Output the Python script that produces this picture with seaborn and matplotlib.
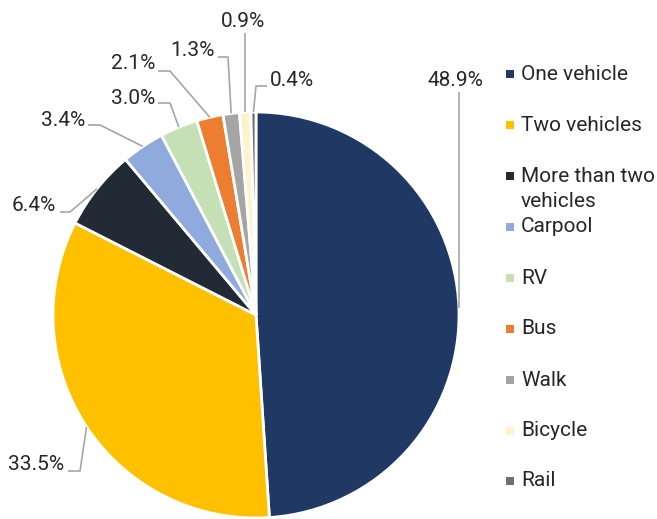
import numpy as np
import matplotlib
matplotlib.use("Agg")
import matplotlib.pyplot as plt
import seaborn as sns

# Data
modes = ["One vehicle", "Two vehicles", "More than two\nvehicles", "Carpool", "RV",
         "Bus", "Walk", "Bicycle", "Rail"]
shares = [48.9, 33.5, 6.4, 3.4, 3.0, 2.1, 1.3, 0.9, 0.4]
colors = ["#203864", "#FFC000", "#222A35", "#8FAADC", "#C5E0B4",
          "#ED7D31", "#A5A5A5", "#FFF2CC", "#6F6F6F"]

sns.set_theme(style="white")
plt.rcParams["font.family"] = ["Roboto", "DejaVu Sans"]

W, H = 657, 519
CX, CY, R = 256, 315, 203
FS = 15


def X(px):
    return (px - CX) / R


def Y(py):
    return (CY - py) / R


fig = plt.figure(figsize=(W / 100, H / 100), dpi=100)
ax = fig.add_axes([0, 0, 1, 1])

wedges, _ = ax.pie(shares, colors=colors, startangle=90, counterclock=False,
                   radius=1, center=(0, 0),
                   wedgeprops=dict(edgecolor="white", linewidth=2))
ax.set_xlim(X(0), X(W))
ax.set_ylim(Y(H), Y(0))
ax.axis("off")

# label layout: text position (px), ha, leader points (px) before the wedge
label_layout = [
    ((455, 80), "center", [(460, 92)]),
    ((64, 465), "right", [(68, 471), (80, 471)]),
    ((56, 205), "right", [(60, 212), (70, 212)]),
    ((85, 120), "right", [(88, 125), (100, 125)]),
    ((155, 98), "right", [(158, 103), (170, 103)]),
    ((155, 63), "right", [(158, 71), (170, 71)]),
    ((215, 50), "right", [(218, 57), (228, 57)]),
    ((243, 21), "center", [(244, 33)]),
    ((270, 80), "left", [(267, 86), (256, 86)]),
]

for w, val, (tpos, ha, pts) in zip(wedges, shares, label_layout):
    mid = np.deg2rad((w.theta1 + w.theta2) / 2)
    ex, ey = np.cos(mid), np.sin(mid)
    xs = [X(p[0]) for p in pts]
    ys = [Y(p[1]) for p in pts]
    if len(pts) == 1:
        xs[0] = ex
    xs.append(ex)
    ys.append(ey)
    ax.plot(xs, ys, color="#A6A6A6", lw=1.2, solid_capstyle="butt", zorder=1)
    ax.text(X(tpos[0]), Y(tpos[1]), f"{val}%", ha=ha, va="center",
            fontsize=FS, color="#262626")

# legend
legend_y = [74, 125, 176, 227, 278, 329, 380, 431, 481]
for name, c, ly in zip(modes, colors, legend_y):
    ax.scatter([X(510)], [Y(ly)], marker="s", s=30, color=c, linewidths=0)
    for k, line in enumerate(name.split("\n")):
        ax.text(X(521), Y(ly + 25.5 * k), line, ha="left", va="center",
                fontsize=FS, color="#262626")

fig.savefig("out.png", dpi=100)
